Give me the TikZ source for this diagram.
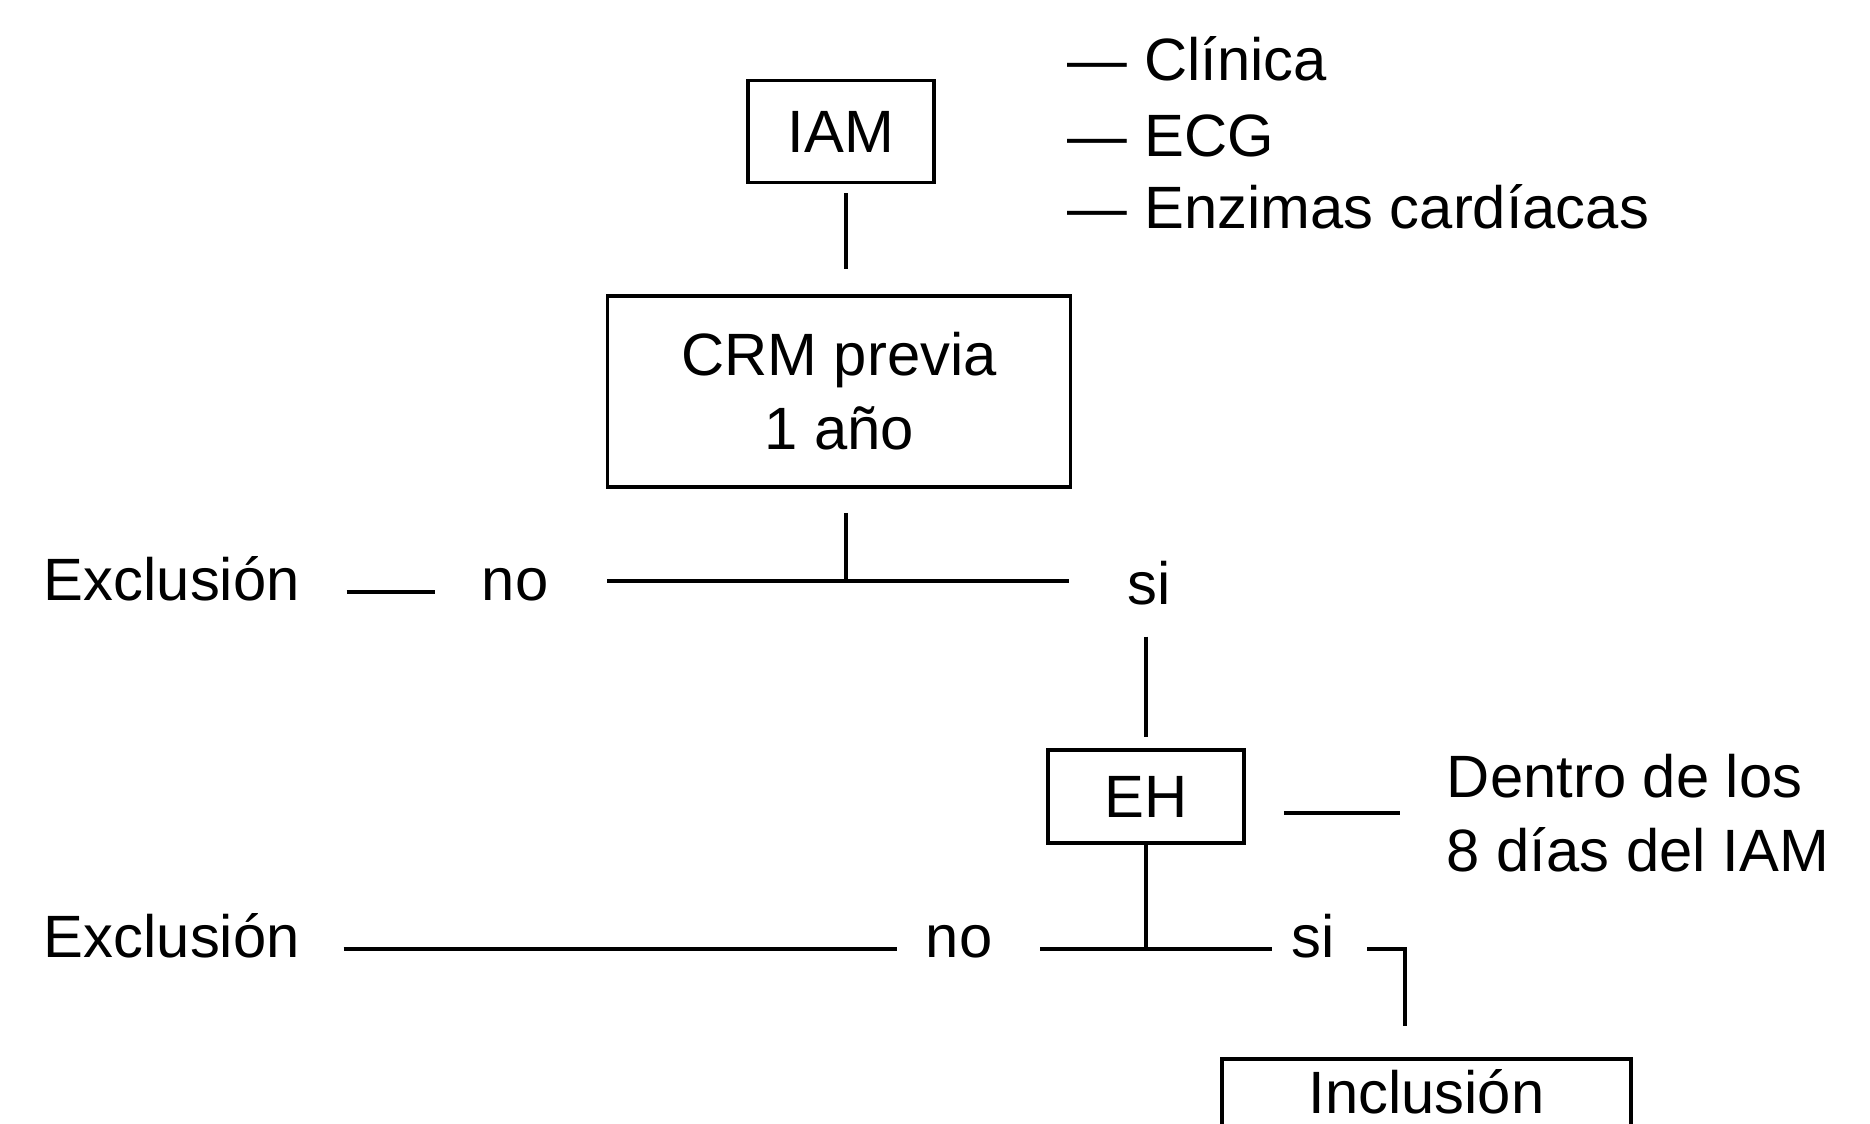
\documentclass[tikz,border=0pt]{standalone}
\usepackage{fontspec}
\setmainfont{Liberation Sans}

\begin{document}
\begin{tikzpicture}[every node/.style={font=\fontsize{17}{21}\selectfont}, line width=1.1pt]
\tikzset{txt/.style={inner sep=0pt}}
\useasboundingbox (0,0) rectangle (18.70,-11.24);
\clip (0,0) rectangle (18.70,-11.24);

% Cajas
\node[draw, rectangle, minimum width=1.86cm, minimum height=1.02cm] (iam) at (8.41,-1.315) {IAM};
\node[draw, rectangle, minimum width=4.63cm, minimum height=1.91cm, align=center] (crm) at (8.39,-3.915) {CRM previa\\1 año};
\node[draw, rectangle, minimum width=1.96cm, minimum height=0.93cm] (eh) at (11.46,-7.965) {EH};
\node[draw, rectangle, minimum width=4.09cm, text height=0.45cm, text depth=0.9cm, inner ysep=0.1cm, anchor=north] (inc) at (14.265,-10.57) {Inclusión};

% Criterios
\node[txt, anchor=base west] (cli) at (10.66,-0.81) {— Clínica};
\node[txt, anchor=base west] (ecg) at (10.66,-1.57) {— ECG};
\node[txt, anchor=base west] (enz) at (10.66,-2.29) {— Enzimas cardíacas};
\node[txt, anchor=west, align=left] (dentro) at (14.45,-8.13) {Dentro de los\\8 días del IAM};

% Textos de las ramas
\node[txt, anchor=base west] (exc1) at (0.42,-6.01) {Exclusión};
\node[txt, anchor=base west] (no1) at (4.80,-6.01) {no};
\node[txt, anchor=base west] (si1) at (11.26,-6.05) {si};
\node[txt, anchor=base west] (exc2) at (0.42,-9.58) {Exclusión};
\node[txt, anchor=base west] (no2) at (9.24,-9.58) {no};
\node[txt, anchor=base west] (si2) at (12.90,-9.58) {si};

% Puntos de union
\coordinate (j1) at (8.46,-5.81);
\coordinate (j1l) at (6.07,-5.81);
\coordinate (j1r) at (10.69,-5.81);
\coordinate (j2) at (eh.south |- no2.mid east);
\coordinate (k) at (14.05,-10.26);

% Lineas
\draw[shorten <=0.09cm, shorten >=0.25cm] (iam.south -| j1) -- (crm.north -| j1);
\draw[shorten <=0.24cm] (crm.south -| j1) -- (j1);
\draw (j1l) -- (j1r);
\draw[shorten <=0.45cm, shorten >=0.45cm] (exc1.mid east) -- (no1.mid west);
\draw[shorten <=0.29cm, shorten >=0.11cm] (si1.south -| eh.north) -- (eh.north);
\draw[shorten <=0.38cm, shorten >=0.45cm] (eh.east |- dentro.west) -- (dentro.west);
\draw (eh.south) -- (j2);
\draw[shorten <=0.42cm, shorten >=0.27cm] (exc2.mid east) -- (no2.mid west);
\draw[shorten <=0.46cm, shorten >=0.18cm] (no2.mid east) -- (si2.mid west);
\draw[shorten <=0.30cm] (si2.mid east) -| (k);
\end{tikzpicture}
\end{document}
